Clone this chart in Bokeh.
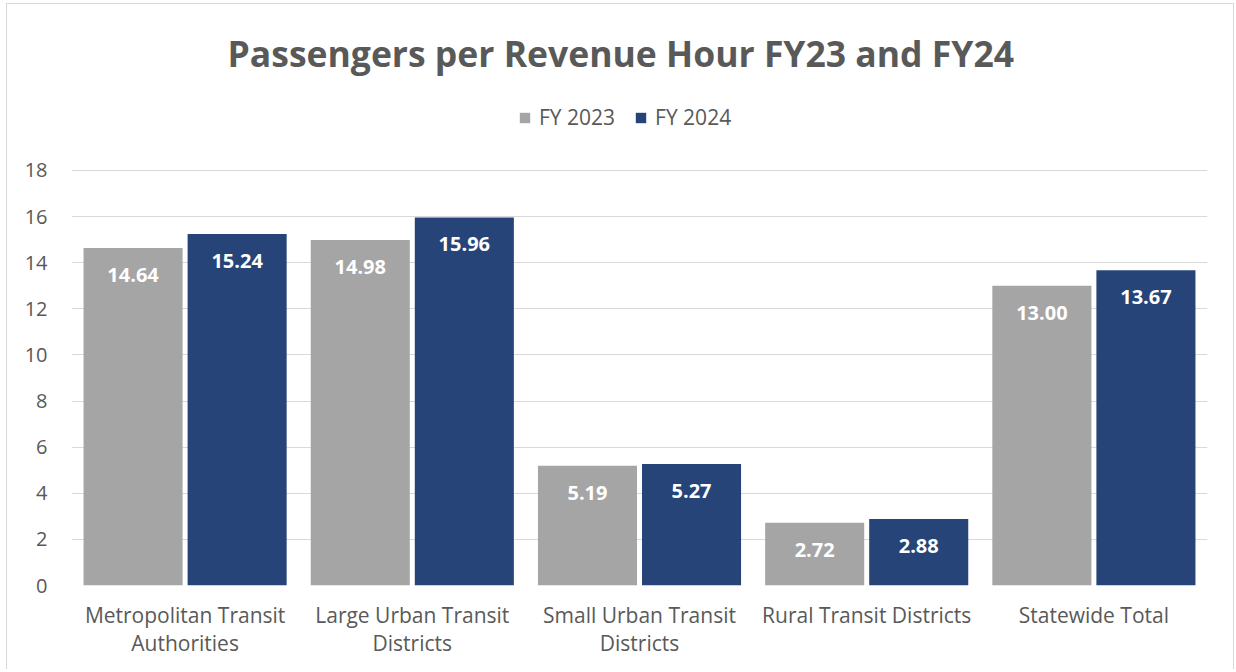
from bokeh.plotting import figure
from bokeh.models import ColumnDataSource, FactorRange, Range1d, FixedTicker, Legend, LegendItem
from bokeh.transform import dodge
from bokeh.core.properties import value
from bokeh.embed import file_html
from bokeh.resources import INLINE

categories = ["Metropolitan Transit\nAuthorities", "Large Urban Transit\nDistricts",
              "Small Urban Transit\nDistricts", "Rural Transit Districts", "Statewide Total"]
fy2023 = [14.64, 14.98, 5.19, 2.72, 13.00]
fy2024 = [15.24, 15.96, 5.27, 2.88, 13.67]
series_names = ["FY 2023", "FY 2024"]
y_ticks = [0, 2, 4, 6, 8, 10, 12, 14, 16, 18]
title_text = "Passengers per Revenue Hour FY23 and FY24"

GRAY = "#A5A5A5"
NAVY = "#264478"
TEXT = "#595959"
GRID = "#D9D9D9"
FONT = "Open Sans"

src = ColumnDataSource(dict(
    cat=categories, a=fy2023, b=fy2024,
    la=["%.2f" % v for v in fy2023], lb=["%.2f" % v for v in fy2024],
))

p = figure(width=1228, height=666, x_range=FactorRange(*categories),
           y_range=Range1d(0, 21.51), output_backend="svg", toolbar_location=None,
           min_border_left=64, min_border_right=28, min_border_top=85, min_border_bottom=85)
p.styles = {"border-top": "1px solid #D9D9D9", "border-left": "1px solid #D9D9D9",
            "border-right": "1px solid #D9D9D9", "margin-left": "6px", "margin-top": "3px"}

p.title.text = title_text
p.title.align = "left"
p.title.text_font = FONT
p.title.text_font_size = "35.5px"
p.title.text_font_style = "bold"
p.title.text_color = TEXT
p.title.offset = 156
p.title.standoff = 26

off, w = 0.229, 0.436
ra = p.vbar(x=dodge("cat", -off, range=p.x_range), top="a", width=w, source=src,
            fill_color=GRAY, line_color=None)
rb = p.vbar(x=dodge("cat", off, range=p.x_range), top="b", width=w, source=src,
            fill_color=NAVY, line_color=None)

for col, lab, o in (("a", "la", -off), ("b", "lb", off)):
    p.text(x=dodge("cat", o, range=p.x_range), y=col, text=lab, source=src,
           text_align="center", text_baseline="middle", y_offset=27,
           text_font=value(FONT), text_font_style="bold", text_font_size="20px",
           text_color="white")

legend = Legend(items=[LegendItem(label=series_names[0], renderers=[ra]),
                       LegendItem(label=series_names[1], renderers=[rb])],
                orientation="horizontal", location=(447, 454),
                padding=0, margin=0, spacing=19, label_standoff=8,
                glyph_width=13, glyph_height=13,
                label_text_font=FONT, label_text_font_size="21px", label_text_color=TEXT,
                border_line_color=None, background_fill_alpha=0)
p.add_layout(legend, "center")

p.yaxis.ticker = FixedTicker(ticks=y_ticks)
p.xgrid.grid_line_color = None
p.ygrid.grid_line_color = GRID
p.ygrid.grid_line_width = 1
p.outline_line_color = None

for ax in (p.xaxis, p.yaxis):
    ax.axis_line_color = None
    ax.major_tick_line_color = None
    ax.minor_tick_line_color = None
    ax.major_label_text_font = FONT
    ax.major_label_text_color = TEXT
p.yaxis.major_label_text_font_size = "20px"
p.xaxis.major_label_text_font_size = "21px"
p.xaxis.major_label_text_line_height = 1.02
p.yaxis.major_label_standoff = 18
p.xaxis.major_label_standoff = 9

open("out.html", "w").write(file_html(p, INLINE))
